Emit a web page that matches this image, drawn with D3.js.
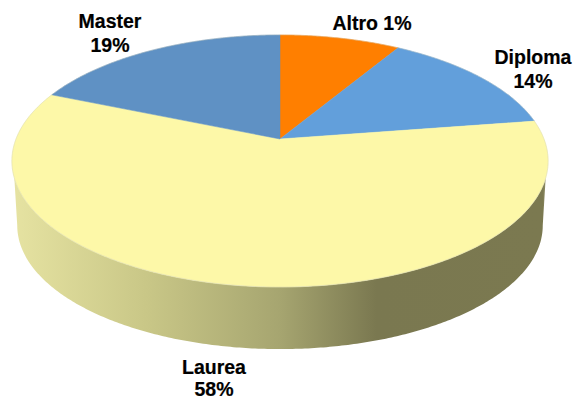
<!DOCTYPE html>
<html>
<head>
<meta charset="utf-8">
<script src="https://cdn.jsdelivr.net/npm/d3@7"></script>
<style>
  html, body { margin: 0; padding: 0; background: #fff; }
  svg { display: block; }
  text { font-family: "Liberation Sans", Arial, sans-serif; font-weight: bold; font-size: 19.5px; fill: #000; stroke: #000; stroke-width: 0.2px; }
</style>
</head>
<body>
<div id="chart"></div>
<script>
// slice sizes as drawn, the printed label of Altro says 1%
var categories = ["Altro", "Diploma", "Laurea", "Master"];
var shares = [8.6, 14, 58.7, 18.7];
var percentLabels = ["1%", "14%", "58%", "19%"];
var sliceColors = ["#ff7f00", "#629fdb", "#fdf8a8", "#5f91c4"];

createchart();

function createchart() {
  var width = 575;
  var height = 400;

  var svg = d3.select("#chart").append("svg")
    .attr("width", width)
    .attr("height", height);

  // tilted disc, the far side is squeezed by perspective
  var cx = 280, cy = 139;
  var rx = 264, ry = 122.2, k = 0.1746;
  var depth = 65, shrink = 0.98;

  function project(a, level) {
    var w = 1 + k * Math.cos(a);
    var s = level ? shrink : 1;
    return [cx + s * rx * Math.sin(a) / w,
            cy + (level ? depth : 0) - s * ry * Math.cos(a) / w];
  }

  var line = d3.line();

  function arcPoints(a0, a1, level) {
    var n = Math.max(2, Math.ceil(Math.abs(a1 - a0) / 0.01));
    return d3.range(n + 1).map(function(i) {
      return project(a0 + (a1 - a0) * i / n, level);
    });
  }

  // side wall
  var defs = svg.append("defs");
  var grad = defs.append("linearGradient")
    .attr("id", "wall")
    .attr("gradientUnits", "userSpaceOnUse")
    .attr("x1", 12).attr("x2", 548)
    .attr("y1", 0).attr("y2", 0);
  var wallStops = [[0, "#e6e3a2"], [0.25, "#c9c787"], [0.5, "#a6a570"], [0.68, "#7a7850"], [0.99, "#7b7950"], [1, "#a09e78"]];
  grad.selectAll("stop").data(wallStops).enter().append("stop")
    .attr("offset", function(d) { return d[0]; })
    .attr("stop-color", function(d) { return d[1]; });

  // the wall leaves the rim a bit below its widest point
  var rimStart = 1.878, footStart = 1.746;
  var wallTop = arcPoints(rimStart, 2 * Math.PI - rimStart, 0);
  var wallBottom = arcPoints(2 * Math.PI - footStart, footStart, 1);
  svg.append("path")
    .attr("d", line(wallTop.concat(wallBottom)) + "Z")
    .attr("fill", "url(#wall)");

  // top of the pie
  var pie = d3.pie().sort(null).value(function(d) { return d; });
  var slices = pie(shares);

  svg.selectAll("path.slice").data(slices).enter().append("path")
    .attr("class", "slice")
    .attr("fill", function(d, i) { return sliceColors[i]; })
    .attr("stroke", function(d, i) { return sliceColors[i]; })
    .attr("stroke-width", 0.5)
    .attr("d", function(d) {
      return line([[cx, cy]].concat(arcPoints(d.startAngle, d.endAngle, 0))) + "Z";
    });

  svg.append("path")
    .attr("d", line(arcPoints(0, 2 * Math.PI, 0)) + "Z")
    .attr("fill", "none")
    .attr("stroke", "#c8c8b4")
    .attr("stroke-width", 0.5)
    .attr("stroke-opacity", 0.7);

  // labels, [x, y of first line, gap to second line, 0 when on one line]
  var labelSpots = [[372, 30, 0], [533, 64, 24], [214, 374, 22], [110, 28, 24]];

  categories.forEach(function(name, i) {
    var spot = labelSpots[i];
    var label = svg.append("text")
      .attr("x", spot[0])
      .attr("y", spot[1])
      .attr("text-anchor", "middle");
    if (spot[2]) {
      label.text(name);
      svg.append("text")
        .attr("x", spot[0])
        .attr("y", spot[1] + spot[2])
        .attr("text-anchor", "middle")
        .text(percentLabels[i]);
    } else {
      label.text(name + " " + percentLabels[i]);
    }
  });
}
</script>
</body>
</html>
